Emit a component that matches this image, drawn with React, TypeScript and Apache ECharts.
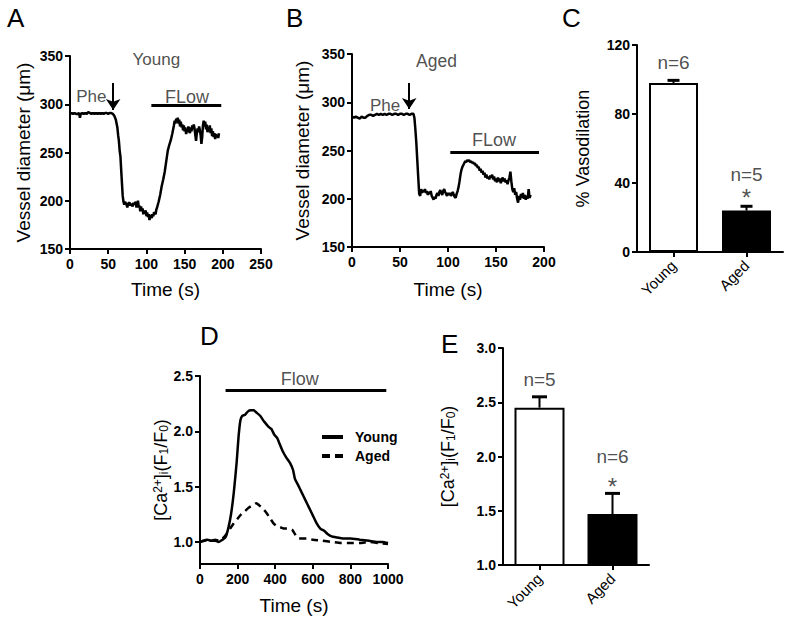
import React, { useEffect, useRef } from 'react';
import * as echarts from 'echarts';

const FONT = '"Liberation Sans", Arial, Helvetica, sans-serif';

// Panel A: Young vessel diameter trace [time s, diameter um]
const traceA: [number, number][] = [
  [0, 290], [2, 291], [4, 290], [6, 291], [8, 290], [10, 290], [12, 291], [13, 286], [14, 290], [16, 291],
  [18, 290], [20, 291], [22, 290], [24, 292], [26, 291], [28, 290], [30, 291], [32, 290], [34, 291], [36, 290],
  [38, 291], [40, 290], [42, 291], [44, 290], [46, 291], [48, 291], [50, 290], [52, 291], [54, 291], [56, 290],
  [58, 288], [60, 284], [62, 276], [63, 268], [64, 262], [65, 252], [66, 246], [67, 232], [68, 218], [69, 205],
  [70, 199], [71, 196], [72, 199], [74, 196], [75, 193], [76, 197], [78, 198], [79, 195], [80, 197], [82, 194],
  [83, 198], [84, 196], [86, 199], [87, 193], [88, 197], [89, 200], [90, 193], [91, 195], [92, 189], [93, 194],
  [94, 190], [95, 192], [96, 186], [97, 189], [98, 187], [99, 190], [100, 184], [101, 188], [102, 183], [103, 186],
  [104, 180], [105, 184], [106, 185], [107, 182], [108, 186], [109, 184], [110, 188], [112, 186], [113, 191], [114, 193],
  [116, 199], [118, 206], [120, 215], [122, 222], [124, 230], [126, 241], [128, 252], [130, 258], [132, 263], [134, 270],
  [136, 278], [137, 283], [138, 280], [139, 285], [140, 282], [141, 286], [142, 280], [143, 284], [144, 277], [145, 282],
  [146, 276], [147, 279], [148, 273], [149, 278], [150, 272], [151, 276], [152, 269], [153, 274], [154, 271], [155, 277],
  [156, 273], [157, 270], [158, 276], [159, 272], [160, 278], [161, 274], [162, 279], [163, 275], [164, 268], [165, 262],
  [166, 270], [167, 275], [168, 271], [169, 277], [170, 273], [171, 268], [172, 259], [173, 266], [174, 278], [175, 283],
  [176, 277], [177, 282], [178, 274], [179, 279], [180, 271], [181, 276], [182, 272], [183, 278], [184, 270], [185, 275],
  [186, 267], [187, 272], [188, 266], [189, 270], [190, 264], [191, 269], [192, 266], [193, 268], [194, 265], [195, 270],
];

// Panel B: Aged vessel diameter trace
const traceB: [number, number][] = [
  [0, 285], [2, 284], [4, 285], [6, 284], [8, 283], [10, 285], [12, 284], [14, 284], [16, 286], [18, 287],
  [20, 287], [22, 286], [24, 287], [26, 288], [28, 287], [30, 288], [32, 287], [34, 288], [36, 287], [38, 288],
  [40, 288], [42, 287], [44, 288], [46, 288], [48, 287], [50, 288], [52, 288], [54, 287], [56, 288], [58, 288],
  [60, 287], [62, 288], [64, 288], [65, 284], [66, 272], [67, 258], [68, 240], [69, 222], [70, 205], [71, 203],
  [72, 210], [73, 206], [74, 209], [75, 207], [76, 210], [77, 206], [78, 208], [79, 204], [80, 207], [81, 205],
  [82, 208], [83, 203], [84, 201], [85, 199], [86, 202], [87, 200], [88, 204], [89, 206], [90, 203], [91, 207],
  [92, 209], [93, 206], [94, 204], [95, 208], [96, 210], [97, 207], [98, 205], [99, 203], [100, 206], [101, 204],
  [102, 206], [103, 203], [104, 205], [105, 207], [106, 204], [107, 202], [108, 201], [109, 205], [110, 208], [111, 212],
  [112, 218], [113, 225], [114, 230], [115, 233], [116, 235], [117, 237], [118, 239], [119, 238], [120, 240], [121, 239],
  [122, 240], [123, 238], [124, 239], [125, 237], [126, 238], [127, 236], [128, 237], [129, 234], [130, 235], [131, 232],
  [132, 233], [133, 229], [134, 231], [135, 227], [136, 229], [137, 225], [138, 227], [139, 222], [140, 225], [141, 221],
  [142, 223], [143, 220], [144, 224], [145, 222], [146, 225], [147, 220], [148, 223], [149, 218], [150, 221], [151, 217],
  [152, 222], [153, 218], [154, 221], [155, 216], [156, 220], [157, 222], [158, 218], [159, 221], [160, 217], [161, 219],
  [162, 215], [163, 219], [164, 222], [165, 228], [166, 218], [167, 210], [168, 207], [169, 211], [170, 204], [171, 207],
  [172, 200], [173, 196], [174, 203], [175, 199], [176, 205], [177, 201], [178, 206], [179, 200], [180, 204], [181, 199],
  [182, 203], [183, 200], [184, 210], [185, 201], [186, 204],
];

// Panel C: % vasodilation
const groups = ['Young', 'Aged'];
const vasoMean = [98, 24];
const vasoErr = [1.5, 2.5];
const vasoN = ['n=6', 'n=5'];

// Panel D: [Ca2+]i traces
const caYoung: [number, number][] = [
  [0, 1.0], [20, 1.01], [40, 1.02], [60, 1.01], [80, 1.01], [100, 1.0], [120, 1.02], [135, 1.04], [150, 1.12],
  [165, 1.25], [180, 1.45], [195, 1.72], [205, 1.95], [215, 2.1], [225, 2.14], [240, 2.15], [255, 2.18], [270, 2.19],
  [285, 2.19], [300, 2.17], [320, 2.14], [340, 2.09], [355, 2.06], [365, 2.04], [380, 2.02], [395, 1.97], [410, 1.94],
  [425, 1.88], [440, 1.82], [460, 1.76], [480, 1.71], [495, 1.65], [505, 1.57], [520, 1.52], [540, 1.45], [560, 1.38],
  [580, 1.31], [600, 1.24], [620, 1.17], [640, 1.12], [660, 1.1], [680, 1.07], [700, 1.05], [730, 1.04], [760, 1.03],
  [800, 1.03], [850, 1.02], [900, 1.01], [940, 1.0], [970, 1.0], [1000, 0.99],
];
const caAged: [number, number][] = [
  [0, 1.0], [20, 1.01], [40, 1.02], [60, 1.01], [80, 1.02], [100, 1.01], [120, 1.03], [140, 1.07], [160, 1.12],
  [180, 1.17], [200, 1.21], [220, 1.25], [240, 1.28], [260, 1.31], [280, 1.33], [300, 1.35], [315, 1.33], [330, 1.31],
  [350, 1.27], [370, 1.22], [390, 1.17], [410, 1.14], [430, 1.13], [450, 1.12], [470, 1.12], [490, 1.11], [505, 1.07],
  [515, 1.04], [540, 1.03], [570, 1.03], [600, 1.02], [650, 1.01], [700, 1.0], [750, 0.99], [800, 0.99], [850, 0.99],
  [900, 1.0], [950, 0.99], [1000, 0.98],
];

// Panel E: [Ca2+]i peak
const caMean = [2.45, 1.47];
const caErr = [0.1, 0.19];
const caN = ['n=5', 'n=6'];

const dTicks = [1.0, 1.5, 2.0, 2.5];

const axisBase = {
  axisLine: { show: true, onZero: false, lineStyle: { color: '#000', width: 2 } },
  axisTick: { show: true, length: 5, lineStyle: { color: '#000', width: 2 } },
  axisLabel: { color: '#000', fontSize: 14, fontWeight: 'bold', fontFamily: FONT, margin: 8 },
  splitLine: { show: false },
  nameTextStyle: { color: '#000', fontSize: 19, fontFamily: FONT },
};
const yLabel = { ...axisBase.axisLabel, margin: 7 };
const catLabel = { ...axisBase.axisLabel, rotate: 45, margin: 11, fontSize: 15, fontWeight: 'normal' };

const annLabel = { show: true, position: 'inside', color: '#222', fontSize: 17, fontFamily: FONT };

function ann(value: [number, number], text: string, fontSize = 17) {
  return { value, label: { ...annLabel, formatter: text, fontSize } };
}

function errorSeries(xi: number, yi: number, means: number[], errs: number[], halfCap: number) {
  return {
    type: 'custom',
    xAxisIndex: xi,
    yAxisIndex: yi,
    z: 5,
    data: means.map((m, i) => [i, m, errs[i]]),
    renderItem: (_p: any, api: any) => {
      const x = api.value(0);
      const y = api.value(1);
      const e = api.value(2);
      const base = api.coord([x, y]);
      const top = api.coord([x, y + e]);
      return {
        type: 'group',
        children: [
          { type: 'line', shape: { x1: base[0], y1: base[1], x2: top[0], y2: top[1] }, style: { stroke: '#000', lineWidth: 2 } },
          { type: 'line', shape: { x1: top[0] - halfCap, y1: top[1], x2: top[0] + halfCap, y2: top[1] }, style: { stroke: '#000', lineWidth: 3 } },
        ],
      };
    },
  };
}

const caName = '[Ca{sup|2+}]{sub|i}(F{sub|1}/F{sub|0})';
const caNameStyle = {
  color: '#000',
  fontSize: 18,
  fontFamily: FONT,
  rich: {
    sup: { fontSize: 12, fontFamily: FONT, color: '#000', verticalAlign: 'top', lineHeight: 12 },
    sub: { fontSize: 12, fontFamily: FONT, color: '#000', verticalAlign: 'bottom', lineHeight: 12 },
  },
};

export default function App() {
  const ref = useRef<HTMLDivElement>(null);
  useEffect(() => {
    if (!ref.current) return;
    const chart = echarts.init(ref.current, undefined, { renderer: 'svg' });
    const letter = (t: string, left: number, top: number) => ({
      type: 'text', left, top, style: { text: t, fontSize: 26, fontFamily: FONT, fill: '#000' },
    });
    const option: any = {
      animation: false,
      backgroundColor: '#fff',
      textStyle: { fontFamily: FONT },
      grid: [
        { left: 70, top: 56, width: 191, height: 193, outerBoundsMode: 'none' },
        { left: 352, top: 54, width: 192, height: 193, outerBoundsMode: 'none' },
        { left: 637, top: 45, width: 146, height: 207, outerBoundsMode: 'none' },
        { left: 200, top: 376, width: 188, height: 188, outerBoundsMode: 'none' },
        { left: 503, top: 348, width: 146, height: 217, outerBoundsMode: 'none' },
      ],
      xAxis: [
        { ...axisBase, gridIndex: 0, type: 'value', min: 0, max: 250, interval: 50, name: 'Time (s)', nameLocation: 'middle', nameGap: 31 },
        { ...axisBase, gridIndex: 1, type: 'value', min: 0, max: 200, interval: 50, name: 'Time (s)', nameLocation: 'middle', nameGap: 33 },
        {
          ...axisBase, gridIndex: 2, type: 'category', data: groups,
          axisTick: { ...axisBase.axisTick, alignWithLabel: true },
          axisLabel: catLabel,
        },
        {
          ...axisBase, gridIndex: 3, type: 'value', min: 0, max: 1000, interval: 200, name: 'Time (s)', nameLocation: 'middle', nameGap: 32,
          axisLabel: { ...axisBase.axisLabel, formatter: (v: number) => String(v) },
        },
        {
          ...axisBase, gridIndex: 4, type: 'category', data: groups,
          axisTick: { ...axisBase.axisTick, alignWithLabel: true },
          axisLabel: catLabel,
        },
      ],
      yAxis: [
        { ...axisBase, axisLabel: yLabel, gridIndex: 0, type: 'value', min: 150, max: 350, interval: 50, name: 'Vessel diameter (\u03bcm)', nameLocation: 'middle', nameRotate: 90, nameGap: 37 },
        { ...axisBase, axisLabel: yLabel, gridIndex: 1, type: 'value', min: 150, max: 350, interval: 50, name: 'Vessel diameter (\u03bcm)', nameLocation: 'middle', nameRotate: 90, nameGap: 40 },
        { ...axisBase, axisLabel: yLabel, gridIndex: 2, type: 'value', min: 0, max: 120, interval: 40, name: '% Vasodilation', nameLocation: 'middle', nameRotate: 90, nameGap: 45, nameTextStyle: { ...axisBase.nameTextStyle, fontSize: 18 } },
        {
          ...axisBase, gridIndex: 3, type: 'value', min: 0.8, max: 2.5,
          axisTick: { ...axisBase.axisTick, customValues: dTicks },
          axisLabel: { ...yLabel, customValues: dTicks, formatter: (v: number) => v.toFixed(1) },
          name: caName, nameLocation: 'middle', nameRotate: 90, nameGap: 27, nameTextStyle: caNameStyle,
        },
        {
          ...axisBase, gridIndex: 4, type: 'value', min: 1, max: 3, interval: 0.5,
          axisLabel: { ...yLabel, formatter: (v: number) => v.toFixed(1) },
          name: caName, nameLocation: 'middle', nameRotate: 90, nameGap: 46, nameTextStyle: caNameStyle,
        },
      ],
      legend: {
        data: [
          { name: 'Young', icon: 'rect' },
          { name: 'Aged', icon: 'path://M0,0h8v4h-8z M13,0h8v4h-8z' },
        ],
        left: 317, top: 425, orient: 'vertical', itemWidth: 21, itemHeight: 4, itemGap: 5,
        textStyle: { color: '#000', fontSize: 14, fontWeight: 'bold', fontFamily: FONT, padding: [0, 0, 0, 7] },
      },
      graphic: [
        letter('A', 7, 5), letter('B', 286, 5), letter('C', 562, 5), letter('D', 200, 323), letter('E', 441, 331),
      ],
      series: [
        {
          name: 'traceA', type: 'line', xAxisIndex: 0, yAxisIndex: 0, data: traceA, showSymbol: false, symbol: 'none',
          lineStyle: { color: '#000', width: 2.5 },
        },
        {
          name: 'annA', type: 'scatter', xAxisIndex: 0, yAxisIndex: 0, symbolSize: 1, itemStyle: { color: 'transparent' },
          data: [ann([113, 346], 'Young'), ann([28, 308], 'Phe'), ann([153, 308], 'FLow', 18)],
          markLine: {
            silent: true, label: { show: false }, lineStyle: { color: '#000', width: 2, type: 'solid' }, symbolSize: 11,
            data: [
              [{ coord: [56.5, 322], symbol: 'none' }, { coord: [56.5, 294], symbol: 'arrow' }],
              [{ coord: [106.5, 298.5], symbol: 'none' }, { coord: [198, 298.5], symbol: 'none', lineStyle: { width: 3 } }],
            ],
          },
        },
        {
          name: 'traceB', type: 'line', xAxisIndex: 1, yAxisIndex: 1, data: traceB, showSymbol: false, symbol: 'none',
          lineStyle: { color: '#000', width: 2.5 },
        },
        {
          name: 'annB', type: 'scatter', xAxisIndex: 1, yAxisIndex: 1, symbolSize: 1, itemStyle: { color: 'transparent' },
          data: [ann([88, 343], 'Aged', 17.5), ann([34.5, 296.5], 'Phe'), ann([148, 261], 'FLow', 18)],
          markLine: {
            silent: true, label: { show: false }, lineStyle: { color: '#000', width: 2, type: 'solid' }, symbolSize: 11,
            data: [
              [{ coord: [59.6, 320], symbol: 'none' }, { coord: [59.6, 293], symbol: 'arrow' }],
              [{ coord: [102.4, 248], symbol: 'none' }, { coord: [194.8, 248], symbol: 'none', lineStyle: { width: 3 } }],
            ],
          },
        },
        {
          name: 'barC', type: 'bar', xAxisIndex: 2, yAxisIndex: 2, barWidth: 49,
          data: vasoMean.map((v, i) => ({ value: v, itemStyle: { color: i === 0 ? '#fff' : '#000', borderColor: '#000', borderWidth: 2 } })),
        },
        errorSeries(2, 2, vasoMean, vasoErr, 6),
        {
          name: 'annC', type: 'scatter', xAxisIndex: 2, yAxisIndex: 2, symbolSize: 1, itemStyle: { color: 'transparent' },
          data: [ann([0, 109.6], vasoN[0], 19), ann([1, 45], vasoN[1], 19), ann([1, 31.5], '*', 24)],
        },
        {
          name: 'Young', type: 'line', xAxisIndex: 3, yAxisIndex: 3, data: caYoung, showSymbol: false, symbol: 'none', smooth: 0.2,
          color: '#000', itemStyle: { color: '#000' },
          lineStyle: { color: '#000', width: 2.5 },
        },
        {
          name: 'Aged', type: 'line', xAxisIndex: 3, yAxisIndex: 3, data: caAged, showSymbol: false, symbol: 'none', smooth: 0.2,
          color: '#000', itemStyle: { color: '#000' },
          lineStyle: { color: '#000', width: 2.5, type: [7, 5] },
        },
        {
          name: 'annD', type: 'scatter', xAxisIndex: 3, yAxisIndex: 3, symbolSize: 1, itemStyle: { color: 'transparent' },
          data: [ann([531, 2.47], 'Flow', 18)],
          markLine: {
            silent: true, label: { show: false }, lineStyle: { color: '#000', width: 3, type: 'solid' }, symbol: 'none',
            data: [[{ coord: [136, 2.37] }, { coord: [991, 2.37] }]],
          },
        },
        {
          name: 'barE', type: 'bar', xAxisIndex: 4, yAxisIndex: 4, barWidth: 50,
          data: caMean.map((v, i) => ({ value: v, itemStyle: { color: i === 0 ? '#fff' : '#000', borderColor: '#000', borderWidth: 2 } })),
        },
        errorSeries(4, 4, caMean, caErr, 7.5),
        {
          name: 'annE', type: 'scatter', xAxisIndex: 4, yAxisIndex: 4, symbolSize: 1, itemStyle: { color: 'transparent' },
          data: [ann([0, 2.71], caN[0], 19), ann([1, 2.0], caN[1], 19), ann([1, 1.72], '*', 24)],
        },
      ],
    };
    chart.setOption(option);
    return () => chart.dispose();
  }, []);
  return <div ref={ref} style={{ position: 'absolute', left: 0, top: 0, width: 787, height: 627 }} />;
}
